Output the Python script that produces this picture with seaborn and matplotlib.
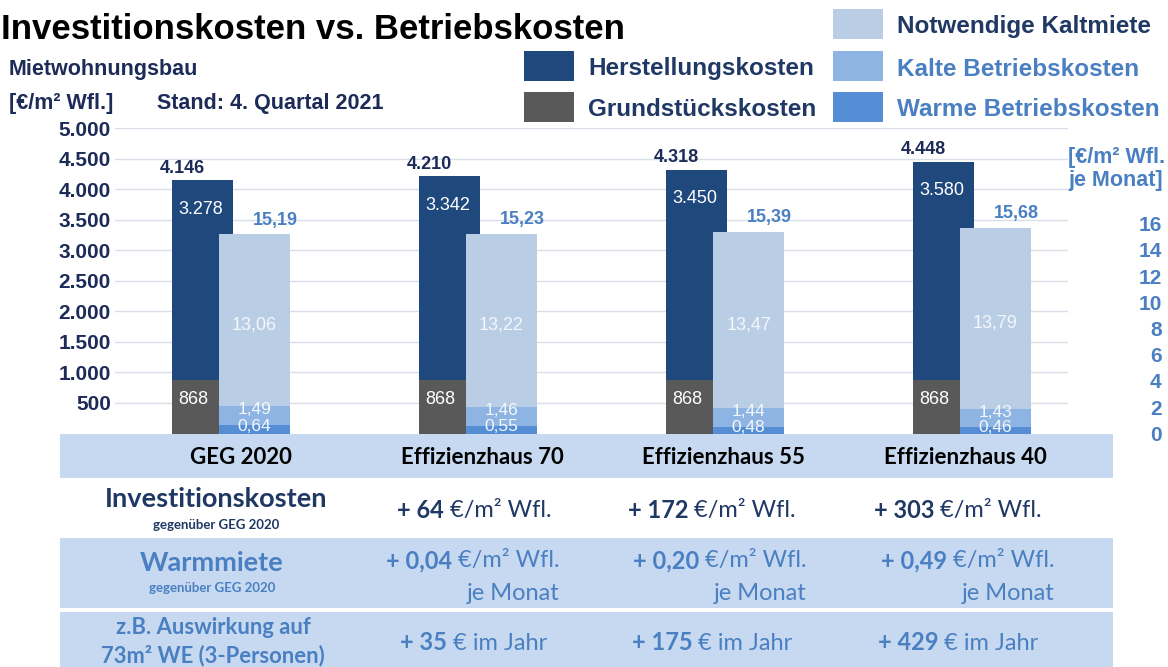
import numpy as np
import pandas as pd
import matplotlib
matplotlib.use("Agg")
import matplotlib.pyplot as plt
from matplotlib.patches import Rectangle
from matplotlib.transforms import IdentityTransform
import seaborn as sns

# ---------------- data ----------------
categories = ["GEG 2020", "Effizienzhaus 70", "Effizienzhaus 55", "Effizienzhaus 40"]
grundstueckskosten = [868, 868, 868, 868]
herstellungskosten = [3278, 3342, 3450, 3580]
kaltmiete = [13.06, 13.22, 13.47, 13.79]
kalte_bk = [1.49, 1.46, 1.44, 1.43]
warme_bk = [0.64, 0.55, 0.48, 0.46]
left_ticks = [500, 1000, 1500, 2000, 2500, 3000, 3500, 4000, 4500, 5000]
right_ticks = [0, 2, 4, 6, 8, 10, 12, 14, 16]
invest_delta = ["64", "172", "303"]
warm_delta = ["0,04", "0,20", "0,49"]
jahr_delta = ["35", "175", "429"]

# ---------------- style ----------------
sns.set_style("white")
plt.rcParams["font.family"] = ["Liberation Sans", "DejaVu Sans"]
TFONT = ["Lato", "DejaVu Sans"]

DARK = "#1f497d"
GREY = "#595959"
LIGHT = "#b9cde5"
KALT = "#8db4e2"
WARM = "#558ed5"
BAND = "#c6d9f1"
NAVY = "#1c2b58"
TNAVY = "#1f3864"
BLUE = "#4a7fc1"

W, H = 1168, 667
fig = plt.figure(figsize=(W / 100, H / 100), dpi=100)


def fx(x):
    return x / W


def fy(y):
    return 1 - y / H


def de_int(v):
    return f"{int(round(v)):,}".replace(",", ".")


def de_dec(v):
    return f"{v:.2f}".replace(".", ",")


AX_L, AX_R, AX_B, AX_T = 115, 1068, 433.5, 128
ax = fig.add_axes([fx(AX_L), fy(AX_B), (AX_R - AX_L) / W, (AX_B - AX_T) / H])

pos = np.arange(len(categories))
LIGHT_OFF = 0.2105
dark_total = np.add(grundstueckskosten, herstellungskosten)
light_bk = np.add(kalte_bk, warme_bk)
light_total = np.add(kaltmiete, light_bk)

df_dark = pd.DataFrame({"pos": pos, "total": dark_total, "grund": grundstueckskosten})
common = dict(native_scale=True, orient="x", saturation=1, errorbar=None, linewidth=0)
sns.barplot(data=df_dark, x="pos", y="total", color=DARK, width=0.247, ax=ax, **common)
sns.barplot(data=df_dark, x="pos", y="grund", color=GREY, width=0.247, ax=ax, **common)

ax2 = ax.twinx()
df_light = pd.DataFrame({"pos": pos + LIGHT_OFF, "total": light_total, "bk": light_bk, "warm": warme_bk})
sns.barplot(data=df_light, x="pos", y="total", color=LIGHT, width=0.2875, ax=ax2, **common)
sns.barplot(data=df_light, x="pos", y="bk", color=KALT, width=0.2875, ax=ax2, **common)
sns.barplot(data=df_light, x="pos", y="warm", color=WARM, width=0.2875, ax=ax2, **common)

ax.set_xlim(-0.3543, 3.504)
ax.set_ylim(0, 5000)
ax2.set_ylim(0, (AX_B - AX_T) / 13.125)

for a in (ax, ax2):
    a.set_xlabel("")
    a.set_ylabel("")
    a.set_xticks([])
    for s in a.spines.values():
        s.set_visible(False)

ax.set_yticks(left_ticks, labels=[de_int(v) for v in left_ticks], fontweight="bold")
ax.tick_params(axis="y", length=0, pad=3, labelsize=15, labelcolor=NAVY)
ax.grid(axis="y", color="#d9dee8", lw=1)
ax.set_axisbelow(True)

ax2.set_yticks(right_ticks, labels=[str(v) for v in right_ticks], fontweight="bold", ha="right")
ax2.tick_params(axis="y", length=0, pad=67.5, labelsize=15, labelcolor=BLUE)
ax2.grid(False)

# bar labels
for i in range(len(categories)):
    ax.annotate(de_int(dark_total[i]), (pos[i], dark_total[i]), xytext=(-20, 12),
                textcoords="offset pixels", ha="center", va="center", fontsize=13,
                fontweight="bold", color=NAVY)
    ax.annotate(de_int(herstellungskosten[i]), (pos[i], dark_total[i]), xytext=(-2, -29),
                textcoords="offset pixels", ha="center", va="center", fontsize=13, color="white")
    ax.annotate(de_int(grundstueckskosten[i]), (pos[i], grundstueckskosten[i]), xytext=(-9.5, -19),
                textcoords="offset pixels", ha="center", va="center", fontsize=13, color="white")
    lx = pos[i] + LIGHT_OFF
    ax2.annotate(de_dec(light_total[i]), (lx, light_total[i]), xytext=(21, 14),
                 textcoords="offset pixels", ha="center", va="center", fontsize=13,
                 fontweight="bold", color=BLUE)
    ax2.annotate(de_dec(kaltmiete[i]), (lx, light_bk[i] + kaltmiete[i] / 2), xytext=(0, -5),
                 textcoords="offset pixels", ha="center", va="center", fontsize=13, color="#f4f7fb")
    ax2.annotate(de_dec(kalte_bk[i]), (lx, warme_bk[i] + kalte_bk[i] / 2), xytext=(0, 6),
                 textcoords="offset pixels", ha="center", va="center", fontsize=12.5, color="#f4f7fb")
    ax2.annotate(de_dec(warme_bk[i]), (lx, warme_bk[i] / 2), xytext=(0, 3),
                 textcoords="offset pixels", ha="center", va="center", fontsize=12.5, color="#f4f7fb")

# ---------------- titles & axis notes ----------------
fig.text(fx(1), fy(39), "Investitionskosten vs. Betriebskosten", fontsize=25, fontweight="bold",
         color="black", ha="left", va="baseline")
fig.text(fx(9), fy(70), "Mietwohnungsbau", fontsize=15.5, fontweight="bold", color=NAVY, va="center")
fig.text(fx(9), fy(103), "[€/m² Wfl.]", fontsize=15.5, fontweight="bold", color=NAVY, va="center")
fig.text(fx(157), fy(103), "Stand: 4. Quartal 2021", fontsize=15.5, fontweight="bold", color=NAVY, va="center")
fig.text(fx(1165), fy(157), "[€/m² Wfl.", fontsize=15.5, fontweight="bold", color=BLUE, ha="right", va="center")
fig.text(fx(1163), fy(181), "je Monat]", fontsize=15.5, fontweight="bold", color=BLUE, ha="right", va="center")

# ---------------- legend ----------------
legend_items = [
    (524, 51, DARK, "Herstellungskosten", TNAVY),
    (524, 92, GREY, "Grundstückskosten", TNAVY),
    (833, 9, LIGHT, "Notwendige Kaltmiete", TNAVY),
    (833, 51, KALT, "Kalte Betriebskosten", BLUE),
    (833, 92, WARM, "Warme Betriebskosten", BLUE),
]
for x0, y0, col, lab, tcol in legend_items:
    fig.add_artist(Rectangle((fx(x0), fy(y0 + 30)), 50 / W, 30 / H, transform=fig.transFigure,
                             facecolor=col, edgecolor="none"))
    fig.text(fx(x0 + 64), fy(y0 + 18), lab, fontsize=17.5, fontweight="bold", color=tcol, va="center")

# ---------------- table ----------------
for y0, y1 in [(433.5, 478), (538, 608), (612, 667)]:
    fig.add_artist(Rectangle((fx(60), fy(y1)), (1113 - 60) / W, (y1 - y0) / H, transform=fig.transFigure,
                             facecolor=BAND, edgecolor="none", zorder=1))

header_x = [241, 482, 723, 965]
for cx, cat in zip(header_x, categories):
    fig.text(fx(cx), fy(458), cat, fontsize=16, fontweight="bold", family=TFONT, color="black",
             ha="center", va="center", zorder=3)

LAB_X = 216
fig.text(fx(LAB_X), fy(499), "Investitionskosten", fontsize=19.5, fontweight="bold", family=TFONT,
         color=TNAVY, ha="center", va="center", zorder=3)
fig.text(fx(LAB_X), fy(525), "gegenüber GEG 2020", fontsize=9.5, fontweight="bold", family=TFONT,
         color=TNAVY, ha="center", va="center", zorder=3)
fig.text(fx(LAB_X - 4), fy(563), "Warmmiete", fontsize=19.5, fontweight="bold", family=TFONT,
         color=BLUE, ha="center", va="center", zorder=3)
fig.text(fx(LAB_X - 4), fy(588), "gegenüber GEG 2020", fontsize=9.5, fontweight="bold", family=TFONT,
         color=BLUE, ha="center", va="center", zorder=3)
fig.text(fx(LAB_X - 3), fy(628), "z.B. Auswirkung auf", fontsize=15.8, fontweight="bold", family=TFONT,
         color=BLUE, ha="center", va="center", zorder=3)
fig.text(fx(LAB_X - 3), fy(656), "73m² WE (3-Personen)", fontsize=15.8, fontweight="bold", family=TFONT,
         color=BLUE, ha="center", va="center", zorder=3)

renderer = fig.canvas.get_renderer()


def rich(parts, x, y, ha="center", size=17, color=TNAVY):
    objs = []
    for s, wt in parts:
        t = fig.text(0, 0, s, fontsize=size, fontweight=wt, family=TFONT, color=color,
                     ha="left", va="center", transform=IdentityTransform(), zorder=3)
        objs.append(t)
    widths = [t.get_window_extent(renderer).width for t in objs]
    total = sum(widths)
    start = x - total / 2 if ha == "center" else x - total
    for t, w in zip(objs, widths):
        t.set_position((start, H - y))
        start += w


val_center = [474, 712, 958]
warm_right = [560, 807, 1055]
for j in range(3):
    rich([("+ " + invest_delta[j], "bold"), (" €/m² Wfl.", "normal")], val_center[j], 511, color=TNAVY)
    rich([("+ " + warm_delta[j], "bold"), (" €/m² Wfl.", "normal")], warm_right[j], 561, ha="right", color=BLUE)
    rich([("je Monat", "normal")], warm_right[j], 593, ha="right", color=BLUE)
    rich([("+ " + jahr_delta[j], "bold"), (" € im Jahr", "normal")], val_center[j], 643, color=BLUE)

fig.savefig("out.png", dpi=100)
